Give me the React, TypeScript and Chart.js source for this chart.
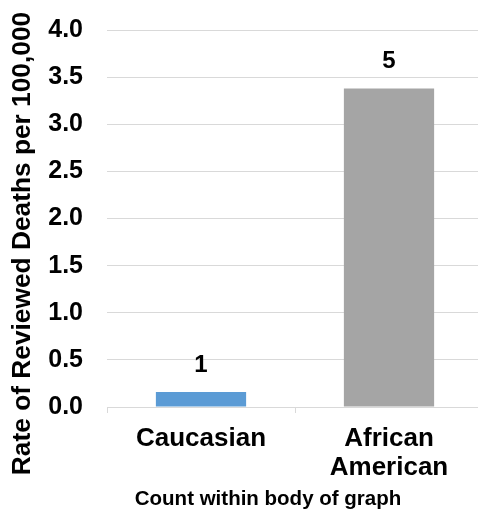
import React, { useEffect, useRef } from "react";
import { Chart, registerables } from "chart.js";

Chart.register(...registerables);

const categories: (string | string[])[] = ["Caucasian", ["African", "American"]];
const rates: number[] = [0.16, 3.38];
const counts: string[] = ["1", "5"];
const barColors: string[] = ["#5b9bd5", "#a5a5a5"];
const yTitle = "Rate of Reviewed Deaths per 100,000";
const xTitle = "Count within body of graph";

const FONT = "'Liberation Sans', Arial, sans-serif";
const SHIFT = 9;

const countLabels = {
  id: "countLabels",
  afterDatasetsDraw(chart: any) {
    const ctx = chart.ctx;
    const meta = chart.getDatasetMeta(0);
    ctx.save();
    ctx.font = `bold 24px ${FONT}`;
    ctx.fillStyle = "#000";
    ctx.textAlign = "center";
    ctx.textBaseline = "alphabetic";
    meta.data.forEach((bar: any, i: number) => {
      ctx.fillText(counts[i], bar.x, bar.y - 20);
    });
    ctx.restore();
  },
};

const axisTitles = {
  id: "axisTitles",
  afterDraw(chart: any) {
    const ctx = chart.ctx;
    ctx.save();
    ctx.fillStyle = "#000";
    ctx.textAlign = "center";
    ctx.textBaseline = "alphabetic";
    ctx.font = `bold 20.5px ${FONT}`;
    ctx.fillText(xTitle, 268, 504.5 + SHIFT);
    ctx.translate(29.5, 243.5 + SHIFT);
    ctx.rotate(-Math.PI / 2);
    ctx.font = `bold 26.3px ${FONT}`;
    ctx.fillText(yTitle, 0, 0);
    ctx.restore();
  },
};

export default function App() {
  const ref = useRef<HTMLCanvasElement | null>(null);
  useEffect(() => {
    if (!ref.current) return;
    const chart = new Chart(ref.current, {
      type: "bar",
      data: {
        labels: categories,
        datasets: [
          {
            data: rates,
            backgroundColor: barColors,
            barPercentage: 0.48,
            categoryPercentage: 1,
          },
        ],
      },
      options: {
        animation: false,
        responsive: false,
        devicePixelRatio: 1,
        layout: { padding: { top: 7, right: 1, left: 0, bottom: 0 } },
        plugins: { legend: { display: false }, tooltip: { enabled: false } },
        scales: {
          x: {
            offset: true,
            grid: {
              offset: true,
              drawOnChartArea: false,
              drawTicks: true,
              tickLength: 6,
              color: "#d9d9d9",
            },
            border: { display: true, color: "#d9d9d9", width: 1 },
            ticks: {
              color: "#000",
              padding: 11,
              font: { family: FONT, size: 26, weight: "bold", lineHeight: 1.12 },
              maxRotation: 0,
              autoSkip: false,
            },
            title: { display: false },
            afterFit: (axis: any) => {
              axis.height = 103;
            },
          },
          y: {
            min: 0,
            max: 4,
            ticks: {
              stepSize: 0.5,
              color: "#000",
              padding: 24,
              font: { family: FONT, size: 25, weight: "bold" },
              callback: (v: any) => Number(v).toFixed(1),
            },
            grid: { color: "#d9d9d9", drawTicks: false },
            border: { display: false },
            title: { display: false },
            afterFit: (axis: any) => {
              axis.width = 107;
            },
          },
        },
      },
      plugins: [countLabels, axisTitles],
    });
    return () => chart.destroy();
  }, []);
  return (
    <div
      style={{
        position: "absolute",
        left: 0,
        top: 0,
        width: 478,
        height: 510,
        overflow: "hidden",
        background: "#fff",
      }}
    >
      <canvas
        ref={ref}
        width={484}
        height={510 + SHIFT}
        style={{ position: "absolute", left: 0, top: -SHIFT, width: 484, height: 510 + SHIFT }}
      />
    </div>
  );
}
